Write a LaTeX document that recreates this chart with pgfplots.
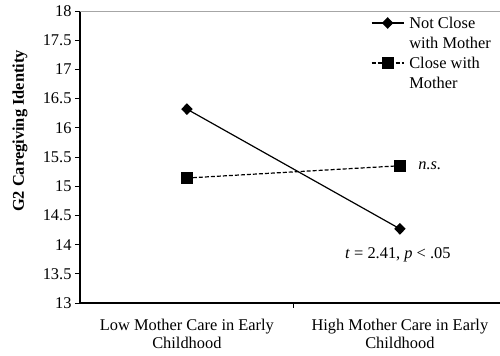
\documentclass[border=0pt]{standalone}
\usepackage{pgfplots}
\pgfplotsset{compat=1.18}
\usetikzlibrary{calc}
\usepackage{fontspec}
\setmainfont{Liberation Serif}
\begin{document}
\begin{tikzpicture}[font=\fontsize{16.4bp}{18bp}\selectfont]
\begin{axis}[
  name=ax,
  scale only axis, width=420bp, height=292bp,
  xmin=-0.502, xmax=1.47, ymin=13, ymax=18,
  axis x line*=bottom, axis y line*=left,
  axis line style={line width=1.6bp, -},
  ytick={13,13.5,14,14.5,15,15.5,16,16.5,17,17.5,18},
  /pgf/number format/assume math mode=true,
  tick align=outside, major tick length=5bp,
  ytick style={line width=1bp, black},
  xtick={0,1},
  xticklabels={{Low Mother Care in Early\\Childhood},{High Mother Care in Early\\Childhood}},
  x tick label style={align=center, yshift=-8bp},
  xtick style={draw=none},
  clip=false,
  ylabel={\bfseries G2 Caregiving Identity},
  every axis y label/.style={at={($(rel axis cs:0,0.589)+(-60bp,0)$)}, rotate=90, anchor=center},
  legend image code/.code={\draw[mark repeat=2,mark phase=2,#1] plot coordinates {(0bp,2bp) (16bp,2bp) (32bp,2bp)};},
  legend cell align=left,
  legend style={at={(rel axis cs:0.693,1)}, yshift=-4bp, anchor=north west, draw=none, fill=none,
    inner sep=0pt, outer sep=0pt, row sep=0pt, column sep=4bp,
    nodes={inner sep=1bp, text height=12bp, text depth=6bp}},
]
\draw[gray!70, line width=1bp] (rel axis cs:0,1) -- (rel axis cs:1,1);
\draw[line width=1bp] (axis cs:0.5,13) -- ([yshift=-5bp]axis cs:0.5,13);
\addplot[black, line width=1.2bp, mark=diamond*, mark size=5bp, mark options={solid, xscale=1.3}]
  coordinates {(0,16.32) (1,14.27)};
\addlegendentry{Not Close}
\addlegendimage{empty legend}
\addlegendentry{with Mother}
\addplot[black, line width=1.2bp, dash pattern=on 4bp off 2bp, mark=square*, mark size=5.3bp, mark options={solid}]
  coordinates {(0,15.14) (1,15.35)};
\addlegendentry{Close with}
\addlegendimage{empty legend}
\addlegendentry{Mother}
\node[anchor=west, font=\fontsize{16.4bp}{18bp}\selectfont\itshape] at (axis cs:1,15.35) [xshift=15bp] {n.s.};
\node at (axis cs:1,13.82) [xshift=-2bp] {\textit{t} = 2.41, \textit{p} < .05};
\end{axis}
\pgfresetboundingbox
\path ($(ax.south west)+(-80bp,-53bp)$) rectangle ($(ax.south west)+(420bp,303bp)$);
\end{tikzpicture}
\end{document}
